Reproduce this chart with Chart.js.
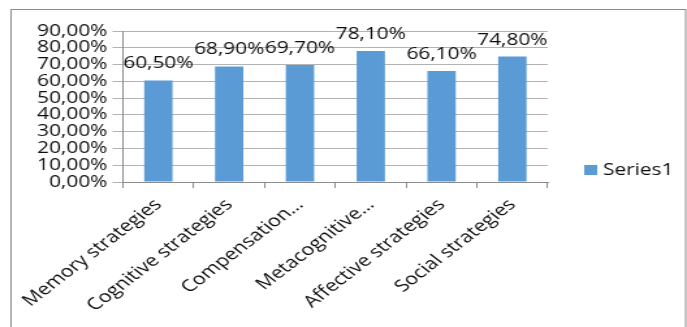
<!DOCTYPE html>
<html>
<head>
<meta charset="utf-8">
<script src="https://cdn.jsdelivr.net/npm/chart.js@4.4.1/dist/chart.umd.min.js"></script>
<style>
html,body{margin:0;padding:0;background:#fff;overflow:hidden;width:687px;height:327px;}
#c{display:block;transform:scaleX(1.3011);transform-origin:0 0;}
</style>
</head>
<body>
<canvas id="c" width="528" height="327"></canvas>
<script>
const categories = ['Memory strategies','Cognitive strategies','Compensation\u2026','Metacognitive\u2026','Affective strategies','Social strategies'];
const seriesName = 'Series1';
const values = [60.5, 68.9, 69.7, 78.1, 66.1, 74.8];
const yTicks = [0, 10, 20, 30, 40, 50, 60, 70, 80, 90];

const FONT = '"Open Sans", "DejaVu Sans", sans-serif';
const TEXT = '#0d0d0d';
const fmt = v => v.toFixed(2).replace('.', ',') + '%';

const frame = {
  id: 'frame',
  beforeDraw(chart) {
    const ctx = chart.ctx;
    ctx.save();
    ctx.fillStyle = '#fff';
    ctx.fillRect(0, 0, chart.width, chart.height);
    ctx.strokeStyle = '#8c8c8c';
    ctx.lineWidth = 1;
    ctx.strokeRect(8.5, 9.5, 518.5, 340);
    ctx.restore();
  }
};

const valueLabels = {
  id: 'valueLabels',
  afterDatasetsDraw(chart) {
    const ctx = chart.ctx;
    const meta = chart.getDatasetMeta(0);
    ctx.save();
    ctx.font = '16px ' + FONT;
    ctx.fillStyle = TEXT;
    ctx.textAlign = 'center';
    ctx.textBaseline = 'alphabetic';
    meta.data.forEach((bar, i) => {
      ctx.fillText(fmt(values[i]), bar.x, bar.y - 12);
    });
    ctx.restore();
  }
};

const sideLegend = {
  id: 'sideLegend',
  afterDraw(chart) {
    const ctx = chart.ctx;
    const ds = chart.data.datasets[0];
    ctx.save();
    ctx.fillStyle = ds.backgroundColor;
    ctx.fillRect(449, 165, 10, 10);
    ctx.font = '16px ' + FONT;
    ctx.fillStyle = TEXT;
    ctx.textAlign = 'left';
    ctx.textBaseline = 'middle';
    ctx.fillText(ds.label, 463.5, 170);
    ctx.restore();
  }
};

new Chart(document.getElementById('c'), {
  type: 'bar',
  data: {
    labels: categories,
    datasets: [{
      label: seriesName,
      data: values,
      backgroundColor: '#5b9bd5',
      borderWidth: 0,
      barPercentage: 0.4,
      categoryPercentage: 1.0
    }]
  },
  options: {
    responsive: false,
    animation: false,
    devicePixelRatio: 1,
    layout: { padding: { left: 0, right: 107, top: 31, bottom: 0 } },
    plugins: { legend: { display: false }, tooltip: { enabled: false } },
    scales: {
      x: {
        offset: true,
        grid: { display: true, drawOnChartArea: false, offset: true, tickLength: 6, color: '#8c8c8c' },
        border: { display: true, color: '#8c8c8c' },
        ticks: {
          font: { family: FONT, size: 16.5 },
          color: TEXT,
          minRotation: 45,
          maxRotation: 45,
          autoSkip: false,
          padding: 7
        },
        afterFit(s) { s.height = 145; }
      },
      y: {
        min: 0,
        max: 90,
        afterBuildTicks(s) { s.ticks = yTicks.map(v => ({ value: v })); },
        grid: { color: '#b3b3b3', tickLength: 8, drawTicks: true },
        border: { display: true, color: '#8c8c8c' },
        ticks: {
          font: { family: FONT, size: 16 },
          color: TEXT,
          padding: 4,
          autoSkip: false,
          callback: v => fmt(v)
        },
        afterFit(s) { s.width = 94.5; }
      }
    }
  },
  plugins: [frame, valueLabels, sideLegend]
});
</script>
</body>
</html>
